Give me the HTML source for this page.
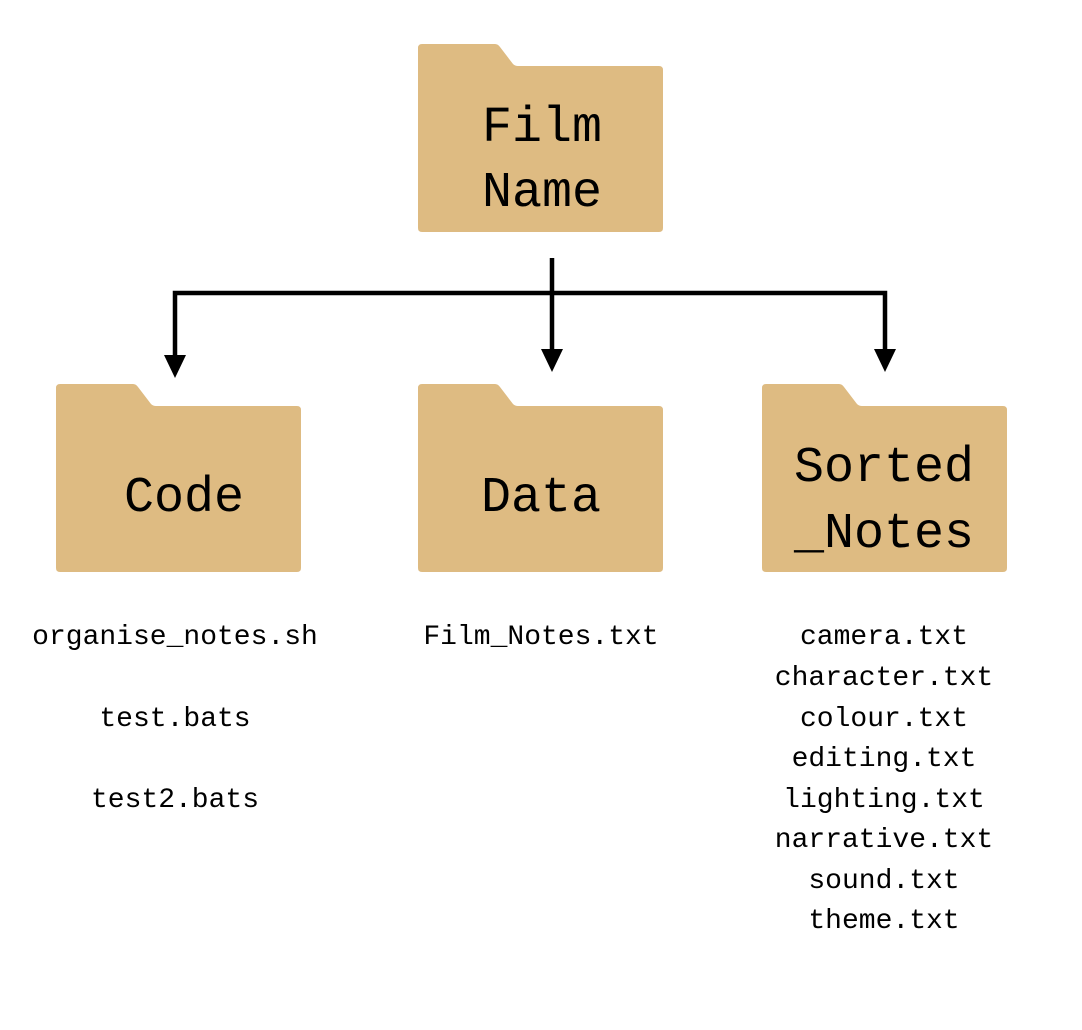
<!DOCTYPE html>
<html><head><meta charset="utf-8"><style>
html,body{margin:0;padding:0;background:#fff;}
svg{display:block}
text{font-family:"Liberation Mono",monospace;fill:#000;text-anchor:middle}
</style></head><body>
<svg width="1082" height="1030" viewBox="0 0 1082 1030" xmlns="http://www.w3.org/2000/svg">
<defs>
<path id="f" d="M4,0 H77 Q80,0 82,3 L95,20 Q97,22 100,22 H241 Q245,22 245,26 V184 Q245,188 241,188 H4 Q0,188 0,184 V4 Q0,0 4,0 Z" fill="#DEBB82"/>
</defs>
<use href="#f" x="418" y="44"/>
<use href="#f" x="56" y="384"/>
<use href="#f" x="418" y="384"/>
<use href="#f" x="762" y="384"/>
<g stroke="#000" stroke-width="4.5" fill="none">
<path d="M552,258 V293 M175,355 V293 H885 V352 M552,293 V350"/>
</g>
<g fill="#000">
<polygon points="164,355 186,355 175,378"/>
<polygon points="541,349 563,349 552,372"/>
<polygon points="874,349 896,349 885,372"/>
</g>
<g font-size="50">
<text x="542" y="141">Film</text>
<text x="542" y="206">Name</text>
<text x="184" y="511">Code</text>
<text x="541" y="511">Data</text>
<text x="884" y="481">Sorted</text>
<text x="884" y="547">_Notes</text>
</g>
<g font-size="28">
<text x="175" y="644">organise_notes.sh</text>
<text x="175" y="726">test.bats</text>
<text x="175" y="807">test2.bats</text>
<text x="541" y="644">Film_Notes.txt</text>
<text x="884" y="644">camera.txt</text>
<text x="884" y="685">character.txt</text>
<text x="884" y="726">colour.txt</text>
<text x="884" y="766">editing.txt</text>
<text x="884" y="807">lighting.txt</text>
<text x="884" y="847">narrative.txt</text>
<text x="884" y="888">sound.txt</text>
<text x="884" y="928">theme.txt</text>
</g>
</svg>
</body></html>
